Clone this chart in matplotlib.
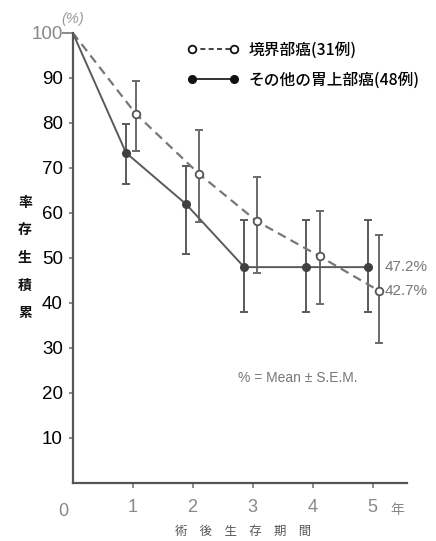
import matplotlib
matplotlib.use("Agg")
import matplotlib.pyplot as plt

# survival data (%)
years = [0, 1, 2, 3, 4, 5]
border_rate = [100, 82.0, 68.7, 58.1, 50.3, 42.7]
border_hi = [100, 89.3, 78.3, 67.9, 60.3, 55.1]
border_lo = [100, 73.6, 57.9, 46.6, 39.8, 31.1]
other_rate = [100, 73.3, 61.9, 47.9, 47.9, 47.9]
other_hi = [100, 79.6, 70.3, 58.4, 58.4, 58.4]
other_lo = [100, 66.4, 50.9, 37.9, 37.9, 37.9]
# small horizontal shift used in the original so the bars don't overlap
border_shift = [0, 0.05, 0.10, 0.07, 0.12, 0.10]
other_shift = [0, -0.11, -0.11, -0.14, -0.11, -0.08]

label_border = "境界部癌(31例)"
label_other = "その他の胃上部癌(48例)"
end_labels = ["47.2%", "42.7%"]

num_font = ["Liberation Sans", "DejaVu Sans"]
cjk_font = ["Noto Sans CJK JP", "DejaVu Sans"]

fig = plt.figure(figsize=(4.36, 5.41), dpi=100)
ax = fig.add_axes([0.1667, 0.1078, 0.7675, 0.8318])

bx = [y + s for y, s in zip(years, border_shift)]
ox = [y + s for y, s in zip(years, other_shift)]

berr = [[r - l for r, l in zip(border_rate, border_lo)],
        [h - r for r, h in zip(border_rate, border_hi)]]
oerr = [[r - l for r, l in zip(other_rate, other_lo)],
        [h - r for r, h in zip(other_rate, other_hi)]]

ax.errorbar(bx[1:], border_rate[1:], yerr=[berr[0][1:], berr[1][1:]], fmt="none",
            ecolor="#6a6a6a", elinewidth=1.4, capsize=3, capthick=1.4, zorder=2)
ax.errorbar(ox[1:], other_rate[1:], yerr=[oerr[0][1:], oerr[1][1:]], fmt="none",
            ecolor="#5a5a5a", elinewidth=1.4, capsize=3, capthick=1.4, zorder=2)

ax.plot(bx, border_rate, ls=(0, (4, 2.5)), color="#777777", lw=1.6, zorder=3)
ax.plot(bx[1:], border_rate[1:], ls="none", marker="o", ms=5.5, mfc="white",
        mec="#555555", mew=1.3, zorder=4)
ax.plot(ox, other_rate, ls="-", color="#5a5a5a", lw=1.4, zorder=3)
ax.plot(ox[1:], other_rate[1:], ls="none", marker="o", ms=5.5, mfc="#404040",
        mec="#404040", zorder=4)

# legend handles
h1, = ax.plot([], [], ls=(0, (3, 2)), color="#222222", lw=1.2, marker="o",
              ms=5.5, mfc="white", mec="#111111", mew=1.3)
h2, = ax.plot([], [], ls="-", color="#111111", lw=1.2, marker="o",
              ms=5.5, mfc="#111111", mec="#111111")
leg = ax.legend([h1, h2], [label_border, label_other], loc="upper left",
                bbox_to_anchor=(0.30, 1.012), frameon=False, numpoints=2,
                handlelength=3.3, handletextpad=0.6, labelspacing=0.85,
                prop={"family": cjk_font, "size": 11.3, "weight": "medium"})

ax.text(bx[-1] + 0.1, other_rate[-1], end_labels[0], color="#777777",
        fontsize=11, family=num_font, va="center", ha="left")
ax.text(bx[-1] + 0.1, border_rate[-1], end_labels[1], color="#777777",
        fontsize=11, family=num_font, va="center", ha="left")
ax.text(2.75, 23.3, "% = Mean ± S.E.M.", color="#777777", fontsize=10,
        family=num_font, va="center", ha="left")

ax.set_xlim(0, 5.58)
ax.set_ylim(0, 100)
ax.spines["top"].set_visible(False)
ax.spines["right"].set_visible(False)
for s in ["left", "bottom"]:
    ax.spines[s].set_color("#555555")
    ax.spines[s].set_linewidth(1.6)

ax.set_yticks(range(10, 101, 10))
ylabels = [str(v) for v in range(10, 101, 10)]
ax.set_yticklabels(ylabels, family=num_font, fontsize=13.5)
ax.tick_params(axis="y", direction="out", length=3, width=1.2, color="#777777", pad=4)
ylab = ax.get_yticklabels()
ylab[-1].set_color("#888888")
ax.yaxis.get_major_ticks()[-1].tick1line.set_markersize(8)

ax.set_xticks(years[1:])
ax.set_xticklabels([str(v) for v in years[1:]], family=num_font, fontsize=13,
                   color="#888888")
ax.tick_params(axis="x", direction="out", length=3.5, width=1.2, color="#777777", pad=8)

ax.text(-0.15, -4.6, "0", family=num_font, fontsize=13,
        color="#888888", ha="center", va="top")
ax.text(5.42, -4.6, "年", family=cjk_font, fontsize=10, color="#888888",
        ha="center", va="top")
ax.text(0.0, 101.5, "(%)", family=num_font, fontsize=10.5, color="#999999",
        ha="center", va="bottom", style="italic")

fig.text(243 / 436, 1 - 531 / 541, "術\u3000後\u3000生\u3000存\u3000期\u3000間",
         family=cjk_font, fontsize=8.9, color="#555555", ha="center", va="center")
fig.text(25 / 436, 1 - 258 / 541, "\n".join("累積生存率"[::-1]), family=cjk_font,
         fontsize=10, weight="bold", color="#111111", ha="center", va="center",
         linespacing=2.25)

fig.savefig("out.png", dpi=100)
